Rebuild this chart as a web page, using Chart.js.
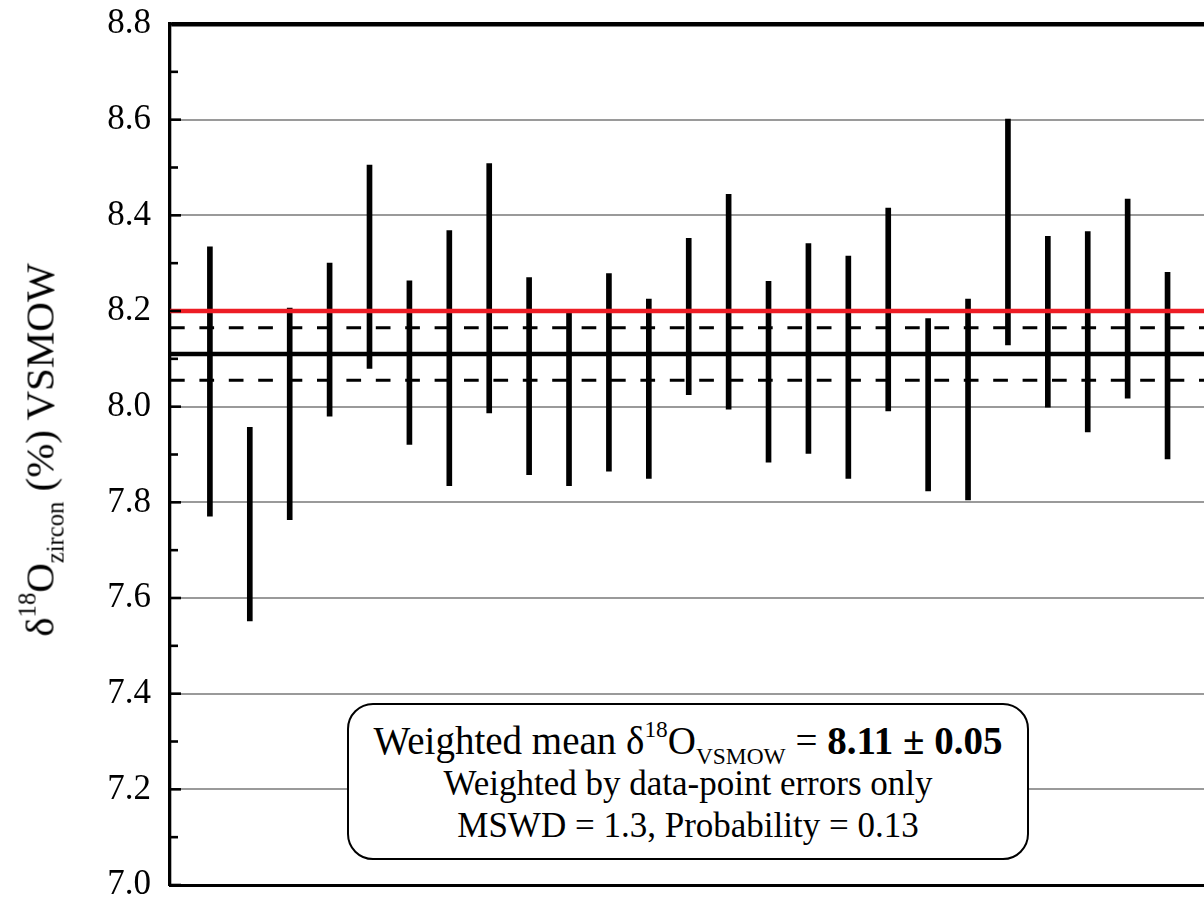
<!DOCTYPE html>
<html>
<head>
<meta charset="utf-8">
<script src="https://cdn.jsdelivr.net/npm/chart.js@4/dist/chart.umd.min.js"></script>
<style>
  html, body { margin: 0; padding: 0; background: #fff; overflow: hidden; }
  #wrap { position: relative; width: 1204px; height: 898px; overflow: hidden; }
  #chart { position: absolute; left: 0; top: 0; }
  .serif { font-family: "Liberation Serif", "Times New Roman", Tinos, "DejaVu Serif", "Noto Serif", FreeSerif, serif; color: #000; }
  .ytitle {
    position: absolute; left: 40px; top: 450px;
    transform: translate(-50%, -50%) rotate(-90deg);
    font-size: 41px; white-space: nowrap; line-height: 1;
  }
  sup, sub { font-size: 0.6em; line-height: 0; position: relative; vertical-align: baseline; }
  sup { top: -0.72em; }
  sub { top: 0.42em; }
  .note {
    position: absolute; left: 347px; top: 703px; width: 682px; height: 157px;
    box-sizing: border-box; border: 2.5px solid #000; border-radius: 26px;
    background: #fff; text-align: center; padding-top: 14px;
  }
  .note .l1 { font-size: 39px; line-height: 44px; white-space: nowrap; }
  .note .l2 { font-size: 35px; line-height: 42px; white-space: nowrap; }
</style>
</head>
<body>
<div id="wrap">
  <canvas id="chart" width="1240" height="898"></canvas>
  <div class="ytitle serif">δ<sup>18</sup>O<sub>zircon</sub> (%) VSMOW</div>
  <div class="note serif">
    <div class="l1">Weighted mean δ<sup>18</sup>O<sub>VSMOW</sub> = <b>8.11 ± 0.05</b></div>
    <div class="l2">Weighted by data-point errors only</div>
    <div class="l2">MSWD = 1.3, Probability = 0.13</div>
  </div>
</div>
<script>
// spot number along x, one error bar per spot
const spots = [1, 2, 3, 4, 5, 6, 7, 8, 9, 10, 11, 12, 13, 14, 15, 16, 17, 18, 19, 20, 21, 22, 23, 24, 25];
// lower / upper end of each error bar (permil VSMOW)
const lows  = [7.771, 7.552, 7.764, 7.980, 8.080, 7.921, 7.835, 7.987, 7.858, 7.835, 7.865, 7.850, 8.025,
               7.995, 7.884, 7.902, 7.850, 7.991, 7.824, 7.805, 8.129, 7.999, 7.947, 8.018, 7.891];
const highs = [8.334, 7.957, 8.206, 8.300, 8.505, 8.263, 8.368, 8.508, 8.270, 8.196, 8.278, 8.225, 8.352,
               8.444, 8.262, 8.341, 8.315, 8.415, 8.184, 8.225, 8.601, 8.356, 8.366, 8.434, 8.281];

const refValue = 8.2;            // red reference line
const weightedMean = 8.11;       // solid black line
const meanBand = [8.055, 8.165]; // dashed lines (2 sigma)

const yTicks = [7.0, 7.2, 7.4, 7.6, 7.8, 8.0, 8.2, 8.4, 8.6, 8.8];
const yMinor = [7.1, 7.3, 7.5, 7.7, 7.9, 8.1, 8.3, 8.5, 8.7];
const xRange = [0, 26.5];

const serifFont = "'Liberation Serif', 'Times New Roman', Tinos, 'DejaVu Serif', 'Noto Serif', serif";

function hline(v) {
  return [{ x: xRange[0], y: v }, { x: xRange[1], y: v }];
}

// ticks drawn on the inside of the left axis
const innerTicks = {
  id: 'innerTicks',
  afterDatasetsDraw(chart) {
    const ys = chart.scales.y;
    const ctx = chart.ctx;
    const left = chart.chartArea.left;
    ctx.save();
    ctx.strokeStyle = '#000';
    ctx.lineWidth = 2.6;
    yTicks.forEach(v => {
      const py = ys.getPixelForValue(v);
      ctx.beginPath(); ctx.moveTo(left, py); ctx.lineTo(left + 11, py); ctx.stroke();
    });
    yMinor.forEach(v => {
      const py = ys.getPixelForValue(v);
      ctx.beginPath(); ctx.moveTo(left, py); ctx.lineTo(left + 8, py); ctx.stroke();
    });
    ctx.restore();
  }
};

const ctx = document.getElementById('chart').getContext('2d');
new Chart(ctx, {
  type: 'bar',
  data: {
    datasets: [
      {
        type: 'line', data: hline(refValue), borderColor: '#ed1c24', borderWidth: 4.5,
        pointRadius: 0, order: 0
      },
      {
        type: 'line', data: hline(weightedMean), borderColor: '#000', borderWidth: 4.5,
        pointRadius: 0, order: 0
      },
      {
        type: 'line', data: hline(meanBand[1]), borderColor: '#000', borderWidth: 3,
        borderDash: [14.7, 14.7], pointRadius: 0, order: 0
      },
      {
        type: 'line', data: hline(meanBand[0]), borderColor: '#000', borderWidth: 3,
        borderDash: [14.7, 14.7], pointRadius: 0, order: 0
      },
      {
        type: 'bar',
        data: spots.map((s, i) => ({ x: s, y: [lows[i], highs[i]] })),
        backgroundColor: '#000', borderWidth: 0, barThickness: 5, grouped: false, order: 1
      }
    ]
  },
  options: {
    responsive: false,
    animation: false,
    layout: { padding: { left: 0, top: 24, right: 12.6, bottom: 13 } },
    plugins: { legend: { display: false }, tooltip: { enabled: false } },
    scales: {
      x: {
        type: 'linear', min: xRange[0], max: xRange[1], offset: false,
        ticks: { display: false },
        grid: { display: false, drawTicks: false },
        border: { display: true, color: '#000', width: 3 },
        afterFit(s) { s.height = 0; s.paddingLeft = 0; s.paddingRight = 0; }
      },
      y: {
        min: 7.0, max: 8.8,
        afterFit(s) { s.width = 170; s.paddingTop = 0; s.paddingBottom = 0; },
        afterBuildTicks(s) { s.ticks = yTicks.map(v => ({ value: v })); },
        ticks: {
          padding: 19, color: '#000',
          font: { family: serifFont, size: 35 },
          callback: v => v.toFixed(1)
        },
        grid: {
          drawTicks: false,
          color: c => (c.tick && Math.abs(c.tick.value - 8.8) < 1e-6) ? '#000' :
                      (c.tick && Math.abs(c.tick.value - 7.0) < 1e-6) ? 'rgba(0,0,0,0)' : '#9a9a9a',
          lineWidth: c => (c.tick && Math.abs(c.tick.value - 8.8) < 1e-6) ? 4.5 : 2
        },
        border: { display: true, color: '#000', width: 3.3 }
      }
    }
  },
  plugins: [innerTicks]
});
</script>
</body>
</html>
